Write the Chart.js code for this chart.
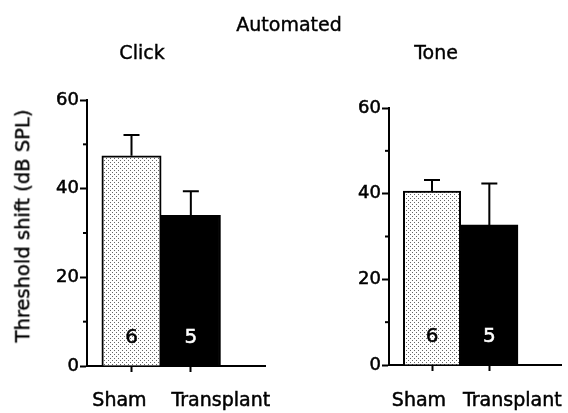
<!DOCTYPE html>
<html>
<head>
<meta charset="utf-8">
<script src="https://cdn.jsdelivr.net/npm/chart.js@4.4.0/dist/chart.umd.min.js"></script>
<style>
body { margin: 0; background: #fff; font-family: "DejaVu Sans", sans-serif; }
#wrap { position: relative; width: 568px; height: 413px; overflow: hidden; }
canvas { position: absolute; top: 0; }
.txt { position: absolute; font-size: 19px; line-height: 1; color: #000; white-space: nowrap; transform: translate(-50%, -50%); -webkit-text-stroke: 0.4px #000; }
</style>
</head>
<body>
<div id="wrap">
  <canvas id="click" width="284" height="413" style="left:0"></canvas>
  <canvas id="tone" width="284" height="413" style="left:284px"></canvas>
  <div class="txt" style="left:289px;top:24px">Automated</div>
  <div class="txt" style="left:142px;top:52px">Click</div>
  <div class="txt" style="left:436px;top:52px">Tone</div>
  <div class="txt" style="left:23px;top:226px;font-size:19.5px;transform:translate(-50%,-50%) rotate(-90deg)">Threshold shift (dB SPL)</div>
</div>
<script>
const categories = ['Sham', 'Transplant'];
const clickMeans = [47.4, 34.0];
const clickErrors = [4.7, 5.4];
const toneMeans = [40.6, 32.7];
const toneErrors = [2.6, 9.7];
const groupSizes = [6, 5];
const yTicks = [0, 20, 40, 60];
const yMinorTicks = [10, 30, 50];

// dotted fill for the sham bar
function dotPattern() {
  const c = document.createElement('canvas');
  c.width = 4; c.height = 4;
  const g = c.getContext('2d');
  g.fillStyle = '#fff';
  g.fillRect(0, 0, 4, 4);
  g.fillStyle = '#666';
  g.fillRect(0, 0, 1, 1);
  g.fillRect(2, 2, 1, 1);
  return g.createPattern(c, 'repeat');
}

function label(ctx, text, x, y, color) {
  ctx.fillStyle = color;
  ctx.strokeStyle = color;
  ctx.lineWidth = 0.5;
  ctx.fillText(text, x, y);
  ctx.strokeText(text, x, y);
}

// error bars, n labels, minor ticks, x labels
const extras = {
  id: 'extras',
  afterDatasetsDraw(chart, args, opts) {
    const ctx = chart.ctx;
    const y = chart.scales.y;
    const x = chart.scales.x;
    const meta = chart.getDatasetMeta(0);
    ctx.save();
    ctx.textAlign = 'center';
    ctx.textBaseline = 'middle';
    meta.data.forEach((bar, i) => {
      const top = y.getPixelForValue(opts.means[i] + opts.errors[i]);
      ctx.strokeStyle = '#000';
      ctx.lineWidth = 2;
      ctx.beginPath();
      ctx.moveTo(bar.x, bar.y);
      ctx.lineTo(bar.x, top);
      ctx.moveTo(bar.x - 8, top);
      ctx.lineTo(bar.x + 8, top);
      ctx.stroke();
      ctx.font = '20px "DejaVu Sans"';
      label(ctx, String(groupSizes[i]), bar.x, y.bottom - 28, i == 0 ? '#000' : '#fff');
    });
    // minor ticks
    ctx.strokeStyle = '#000';
    ctx.lineWidth = 2;
    yMinorTicks.forEach(v => {
      const py = y.getPixelForValue(v);
      ctx.beginPath();
      ctx.moveTo(y.right - 4, py);
      ctx.lineTo(y.right, py);
      ctx.stroke();
    });
    // category labels
    ctx.font = '19px "DejaVu Sans"';
    categories.forEach((c, i) => {
      label(ctx, c, x.getPixelForValue(i) + opts.labelShift[i], 401, '#000');
    });
    ctx.restore();
  }
};

function makeChart(id, means, errors, pad, labelShift) {
  new Chart(document.getElementById(id), {
    type: 'bar',
    data: {
      datasets: [{
        data: categories.map((c, i) => ({ x: i, y: means[i] })),
        backgroundColor: [dotPattern(), '#000'],
        borderColor: '#000',
        borderWidth: 2,
        barPercentage: 1,
        categoryPercentage: 1
      }]
    },
    options: {
      responsive: false,
      animation: false,
      events: [],
      layout: { padding: pad },
      scales: {
        x: {
          type: 'linear',
          offset: false,
          min: -0.75,
          max: 2.25,
          afterBuildTicks: s => { s.ticks = categories.map((c, i) => ({ value: i })); },
          afterFit: s => { s.height = 10; },
          border: { display: true, color: '#000', width: 2 },
          grid: { offset: false, drawOnChartArea: false, tickLength: 6, tickColor: '#000', tickWidth: 2 },
          ticks: { display: false }
        },
        y: {
          min: 0,
          max: 60,
          afterBuildTicks: s => { s.ticks = yTicks.map(v => ({ value: v })); },
          afterFit: s => { s.width = 60; },
          border: { display: true, color: '#000', width: 2 },
          grid: { drawOnChartArea: false, tickLength: 7, tickColor: '#000', tickWidth: 2 },
          ticks: { color: '#000', padding: 1, textStrokeColor: '#000', textStrokeWidth: 0.5, font: { family: 'DejaVu Sans', size: 18 } }
        }
      },
      plugins: {
        legend: { display: false },
        tooltip: { enabled: false },
        extras: { means: means, errors: errors, labelShift: labelShift }
      }
    },
    plugins: [extras]
  });
}

makeChart('click', clickMeans, clickErrors, { left: 27, right: 19, top: 100, bottom: 37 }, [-12, 30]);
makeChart('tone', toneMeans, toneErrors, { left: 45, right: 7, top: 108, bottom: 38 }, [-13, 23]);
</script>
</body>
</html>
